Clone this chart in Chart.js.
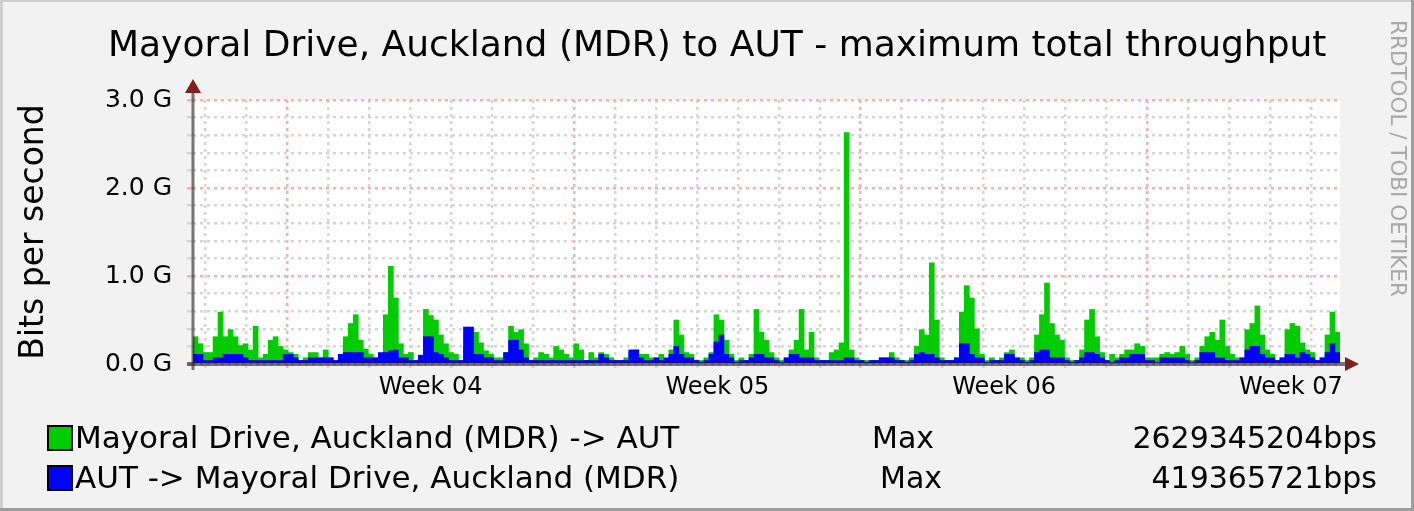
<!DOCTYPE html>
<html>
<head>
<meta charset="utf-8">
<title>MDR to AUT - maximum total throughput</title>
<script src="https://cdn.jsdelivr.net/npm/chart.js@4.4.0/dist/chart.umd.min.js"></script>
<style>
  body { margin: 0; background: #f2f2f2; }
  #page { position: relative; width: 1414px; height: 511px; overflow: hidden; background: #f2f2f2; font-family: "DejaVu Sans", sans-serif; color: #000; }
  #page canvas { position: absolute; left: 0; top: 0; }
  .edge { position: absolute; }
  #title { position: absolute; left: 108px; top: 26px; font-size: 36px; line-height: 36px; white-space: nowrap; }
  .leg { position: absolute; font-size: 30px; line-height: 30px; white-space: nowrap; }
  .leg.name { font-size: 31px; }
  .sw { position: absolute; width: 26px; height: 26px; box-sizing: border-box; border: 2px solid #000; }
  #mark { position: absolute; left: 1388px; top: 20px; writing-mode: vertical-rl; font-size: 21.5px; line-height: 21px; color: #a8a8a8; white-space: nowrap; }
</style>
</head>
<body>
<div id="page">
  <canvas id="chart" width="1414" height="511"></canvas>
  <div class="edge" style="left:0;top:0;width:1414px;height:2px;background:#cfcfcf"></div>
  <div class="edge" style="left:0;top:0;width:3px;height:511px;background:#cfcfcf"></div>
  <div class="edge" style="right:0;top:0;width:3px;height:511px;background:#9e9e9e"></div>
  <div class="edge" style="left:0;bottom:0;width:1414px;height:3px;background:#9e9e9e"></div>
  <div id="title">Mayoral Drive, Auckland (MDR) to AUT - maximum total throughput</div>
  <div id="mark">RRDTOOL / TOBI OETIKER</div>
  <div id="legend"></div>
</div>
<script>
// names, labels
const seriesNames = ['Mayoral Drive, Auckland (MDR) -> AUT', 'AUT -> Mayoral Drive, Auckland (MDR)'];
const seriesColors = ['#00cc00', '#0000ff'];
const maxLabels = ['2629345204bps', '419365721bps'];
const weekLabels = ['Week 04', 'Week 05', 'Week 06', 'Week 07'];
const yTickLabels = ['0.0 G', '1.0 G', '2.0 G', '3.0 G'];

// Gbit/s, one sample every ~3 hours over 4 weeks
const mdrToAut = [
  .31, .23, .13, .13, .31, .59, .31, .39, .31, .21,
  .23, .16, .43, .07, .11, .27, .31, .20, .16, .13,
  .11, .04, .07, .13, .13, .07, .16, .07, .04, .07,
  .31, .46, .56, .27, .17, .11, .07, .07, .56, 1.11,
  .75, .23, .11, .13, .04, .10, .62, .55, .50, .33,
  .23, .13, .11, .04, .20, .40, .36, .24, .15, .11,
  .07, .07, .13, .43, .36, .39, .23, .04, .07, .13,
  .11, .07, .20, .16, .11, .07, .23, .16, .04, .13,
  .07, .13, .11, .07, .04, .04, .07, .13, .16, .11,
  .11, .07, .07, .11, .04, .16, .50, .33, .13, .11,
  .04, .04, .07, .13, .56, .50, .27, .11, .04, .07,
  .04, .11, .62, .36, .27, .13, .07, .04, .07, .16,
  .27, .62, .16, .36, .07, .04, .04, .13, .16, .24,
  2.63, .16, .07, .04, .04, .04, .04, .07, .07, .13,
  .07, .04, .04, .07, .20, .39, .33, 1.15, .50, .07,
  .04, .04, .07, .59, .89, .75, .40, .11, .04, .07,
  .04, .07, .13, .16, .07, .07, .04, .07, .33, .56,
  .92, .46, .33, .27, .07, .04, .04, .16, .50, .62,
  .31, .13, .04, .11, .07, .11, .16, .16, .23, .20,
  .07, .07, .07, .11, .13, .11, .13, .20, .11, .04,
  .07, .20, .31, .36, .27, .50, .20, .11, .07, .07,
  .39, .46, .66, .33, .16, .11, .04, .07, .39, .46,
  .43, .24, .16, .13, .04, .07, .33, .59, .36
];
const autToMdr = [
  .11, .11, .04, .04, .07, .07, .11, .11, .11, .11,
  .07, .04, .04, .04, .04, .04, .04, .04, .11, .11,
  .07, .04, .04, .07, .07, .07, .07, .07, .04, .11,
  .13, .13, .13, .13, .07, .07, .07, .13, .13, .15,
  .16, .07, .07, .04, .04, .10, .31, .31, .13, .11,
  .07, .04, .04, .04, .42, .42, .11, .11, .07, .07,
  .04, .04, .13, .27, .27, .16, .07, .04, .04, .04,
  .04, .04, .04, .04, .04, .04, .04, .04, .04, .04,
  .04, .11, .07, .04, .04, .04, .04, .16, .16, .07,
  .04, .04, .07, .04, .07, .11, .20, .11, .07, .07,
  .04, .02, .04, .11, .25, .33, .11, .07, .02, .04,
  .04, .07, .11, .11, .07, .07, .04, .02, .07, .11,
  .11, .07, .07, .07, .04, .04, .04, .04, .04, .04,
  .07, .07, .04, .04, .02, .04, .04, .07, .07, .07,
  .04, .04, .02, .04, .11, .13, .11, .11, .07, .04,
  .04, .04, .07, .23, .23, .11, .07, .07, .02, .04,
  .04, .04, .11, .11, .07, .04, .02, .04, .13, .16,
  .16, .07, .07, .07, .04, .02, .04, .07, .13, .13,
  .11, .07, .04, .02, .04, .07, .07, .11, .11, .11,
  .04, .04, .02, .07, .07, .07, .07, .07, .04, .02,
  .04, .13, .13, .13, .07, .07, .04, .04, .04, .07,
  .16, .20, .20, .11, .07, .07, .04, .07, .11, .11,
  .07, .13, .11, .07, .04, .07, .13, .23, .13
];

// legend rows (html text)
const legend = document.getElementById('legend');
seriesNames.forEach((name, i) => {
  const top = 423 + i * 40;
  legend.insertAdjacentHTML('beforeend',
    '<div class="sw" style="left:47px;top:' + (top + 2) + 'px;background:' + seriesColors[i] + '"></div>' +
    '<div class="leg name" style="left:75px;top:' + (top - 1) + 'px"></div>' +
    '<div class="leg" style="left:' + (872 + i * 8) + 'px;top:' + top + 'px">Max</div>' +
    '<div class="leg" style="right:37px;top:' + top + 'px">' + maxLabels[i] + '</div>');
  legend.querySelectorAll('.leg.name')[i].textContent = name;
});

const gridGrey = '#d6d6d6';
const gridRed = '#f0b2b2';
const clear = 'rgba(0,0,0,0)';

function dayGrid(ctx) {
  const v = ctx.tick ? ctx.tick.value : 0;
  if (!Number.isInteger(v)) return clear;
  return ((v % 7) + 7) % 7 === 0 ? gridRed : gridGrey;
}
function valGrid(ctx) {
  const v = ctx.tick ? ctx.tick.value : 0;
  return Math.abs(v - Math.round(v)) < 1e-6 ? gridRed : gridGrey;
}

const rrdFrame = {
  id: 'rrdFrame',
  beforeDraw(chart) {
    const { ctx, chartArea: a } = chart;
    ctx.save();
    ctx.fillStyle = '#ffffff';
    ctx.fillRect(a.left, a.top, a.right - a.left, a.bottom - a.top);
    ctx.restore();
  },
  afterDatasetsDraw(chart) {
    const { ctx, chartArea: a } = chart;
    ctx.save();
    ctx.strokeStyle = 'rgba(31,31,31,0.6)';
    ctx.lineWidth = 4;
    ctx.beginPath();
    ctx.moveTo(a.left - 6, a.bottom);
    ctx.lineTo(a.right + 6, a.bottom);
    ctx.stroke();
    ctx.lineWidth = 3;
    ctx.beginPath();
    ctx.moveTo(a.left, a.bottom + 6);
    ctx.lineTo(a.left, a.top - 8);
    ctx.stroke();
    ctx.fillStyle = '#801f1f';
    ctx.beginPath();
    ctx.moveTo(a.left, a.top - 21);
    ctx.lineTo(a.left - 8, a.top - 7);
    ctx.lineTo(a.left + 8, a.top - 7);
    ctx.fill();
    ctx.beginPath();
    ctx.moveTo(a.right + 19, a.bottom);
    ctx.lineTo(a.right + 5, a.bottom - 7);
    ctx.lineTo(a.right + 5, a.bottom + 7);
    ctx.fill();
    ctx.restore();
  }
};

Chart.defaults.font.family = '"DejaVu Sans", sans-serif';
Chart.defaults.color = '#000';

new Chart('chart', {
  type: 'bar',
  data: {
    labels: mdrToAut.map((v, i) => i),
    datasets: [{
      label: seriesNames[1],
      data: autToMdr,
      backgroundColor: seriesColors[1]
    }, {
      label: seriesNames[0],
      data: mdrToAut,
      backgroundColor: seriesColors[0]
    }]
  },
  options: {
    responsive: false,
    animation: false,
    devicePixelRatio: 1,
    layout: { padding: { top: 100, right: 74, bottom: 107, left: 0 } },
    datasets: {
      bar: { grouped: false, barPercentage: 1, categoryPercentage: 1, borderWidth: 0 }
    },
    plugins: { legend: { display: false }, tooltip: { enabled: false } },
    scales: {
      x: { type: 'category', display: false, offset: true },
      xg: {
        type: 'linear',
        position: 'bottom',
        min: -2.3,
        max: 25.7,
        offset: false,
        afterBuildTicks(scale) {
          const t = [];
          for (let d = -2; d <= 25; d++) t.push({ value: d });
          weekLabels.forEach((w, k) => t.push({ value: 7 * k + 3.5 }));
          t.sort((p, q) => p.value - q.value);
          scale.ticks = t;
        },
        afterFit(scale) { scale.height = 40; },
        grid: { offset: false, color: dayGrid, tickColor: dayGrid, lineWidth: 2.5, tickLength: 4, drawTicks: true },
        border: { display: false, dash: [3, 4] },
        ticks: {
          autoSkip: false,
          maxRotation: 0,
          padding: 5,
          font: { size: 24 },
          callback(value) {
            const k = weekLabels.findIndex((w, j) => 7 * j + 3.5 === value);
            return k >= 0 ? weekLabels[k] : '';
          }
        }
      },
      y: {
        min: 0,
        max: 3,
        afterFit(scale) { scale.width = 193; },
        grid: { color: valGrid, tickColor: valGrid, lineWidth: 2.5, tickLength: 6 },
        border: { display: false, dash: [3, 4] },
        ticks: {
          stepSize: 0.2,
          autoSkip: false,
          padding: 15,
          font: { size: 25 },
          callback(value) {
            const r = Math.round(value);
            return Math.abs(value - r) < 1e-6 ? yTickLabels[r] : '';
          }
        },
        title: {
          display: true,
          text: 'Bits per second',
          font: { size: 33 },
          padding: { top: 15, bottom: 0 }
        }
      }
    }
  },
  plugins: [rrdFrame]
});
</script>
</body>
</html>
